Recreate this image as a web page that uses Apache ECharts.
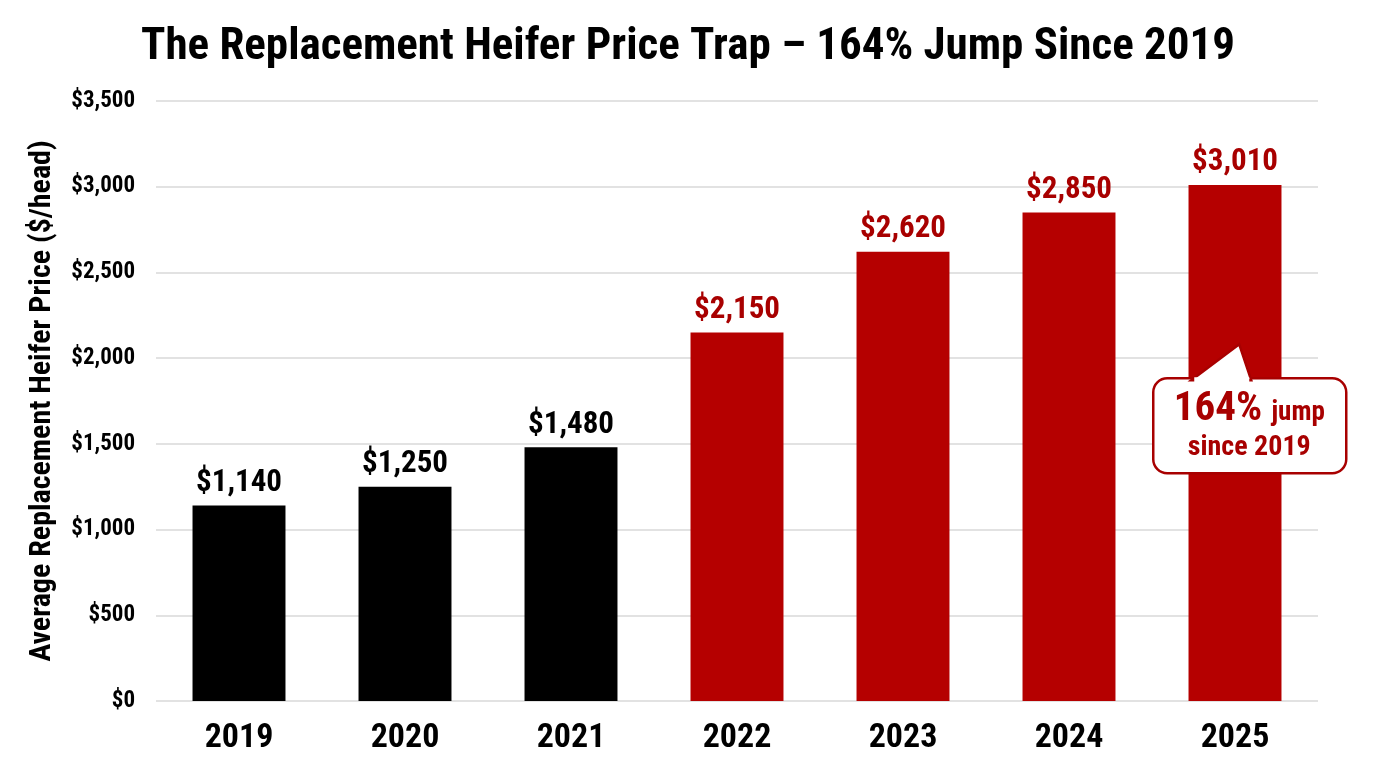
<!DOCTYPE html>
<html>
<head>
<meta charset="utf-8">
<script src="https://cdn.jsdelivr.net/npm/echarts@6/dist/echarts.min.js"></script>
<style>html,body{margin:0;padding:0;background:#fff;}#c{width:1376px;height:768px;}</style>
</head>
<body>
<div id="c"></div>
<script>
const years = ['2019','2020','2021','2022','2023','2024','2025'];
const prices = [1140, 1250, 1480, 2150, 2620, 2850, 3010];
const highlightFrom = 3; // index where red bars start
const yTicks = [0, 500, 1000, 1500, 2000, 2500, 3000, 3500];

const FONT = '"Roboto Condensed","Liberation Sans Narrow","Roboto",sans-serif';
const RED = '#B50000';
const RED_TXT = '#A80000';

const chart = echarts.init(document.getElementById('c'));
const fmt = v => '$' + v.toLocaleString('en-US');

chart.setOption({
  backgroundColor: '#fff',
  title: {
    text: 'The Replacement Heifer Price Trap \u2013 164% Jump Since 2019',
    left: 'center', top: 20,
    textStyle: { fontFamily: FONT, fontWeight: 'bold', fontSize: 45, color: '#000' }
  },
  grid: { left: 156, right: 58, top: 101, bottom: 67, containLabel: false },
  xAxis: {
    type: 'category', data: years,
    axisLine: { show: false }, axisTick: { show: false },
    axisLabel: { fontFamily: FONT, fontWeight: 'bold', fontSize: 34, color: '#000', margin: 20 }
  },
  yAxis: {
    type: 'value', min: yTicks[0], max: yTicks[yTicks.length - 1], interval: 500,
    name: 'Average Replacement Heifer Price ($/head)',
    nameLocation: 'middle', nameGap: 99,
    nameTextStyle: { fontFamily: FONT, fontWeight: 'bold', fontSize: 30, color: '#000' },
    axisLine: { show: false }, axisTick: { show: false },
    splitLine: { lineStyle: { color: '#d9d9d9', width: 1.5 } },
    axisLabel: { fontFamily: FONT, fontWeight: 'bold', fontSize: 23, color: '#000', margin: 21, formatter: fmt }
  },
  series: [{
    type: 'bar', barWidth: '56%',
    data: prices.map((v, i) => ({
      value: v,
      itemStyle: { color: i >= highlightFrom ? RED : '#000' },
      label: { color: i >= highlightFrom ? RED_TXT : '#000' }
    })),
    label: {
      show: true, position: 'top', distance: 7,
      fontFamily: FONT, fontWeight: 'bold', fontSize: 31,
      formatter: p => fmt(p.value)
    }
  }],
  graphic: [
    {
      type: 'group', left: 1152, top: 343, z: 100,
      children: [
        { type: 'rect', z: 100, shape: { x: 0, y: 34, width: 193, height: 95, r: 14 },
          style: { fill: '#fff', stroke: RED_TXT, lineWidth: 2.5 } },
        { type: 'polygon', z: 101, shape: { points: [[38, 36], [86, 0], [98, 36]] },
          style: { fill: '#fff', stroke: RED_TXT, lineWidth: 2.5 } },
        { type: 'rect', z: 102, shape: { x: 41, y: 33, width: 55, height: 6 }, style: { fill: '#fff' } },
        { type: 'text', z: 103, style: { x: 96, y: 65, text: '{a|164% }{b|jump}', align: 'center', verticalAlign: 'middle',
            rich: { a: { fontFamily: FONT, fontWeight: 'bold', fontSize: 41, fill: RED_TXT },
                    b: { fontFamily: FONT, fontWeight: 'bold', fontSize: 27, fill: RED_TXT, padding: [8, 0, 0, 0] } } } },
        { type: 'text', z: 103, style: { x: 96, y: 104, text: 'since 2019', align: 'center', verticalAlign: 'middle',
            fontFamily: FONT, fontWeight: 'bold', fontSize: 28, fill: RED_TXT } }
      ]
    }
  ]
});
</script>
</body>
</html>
